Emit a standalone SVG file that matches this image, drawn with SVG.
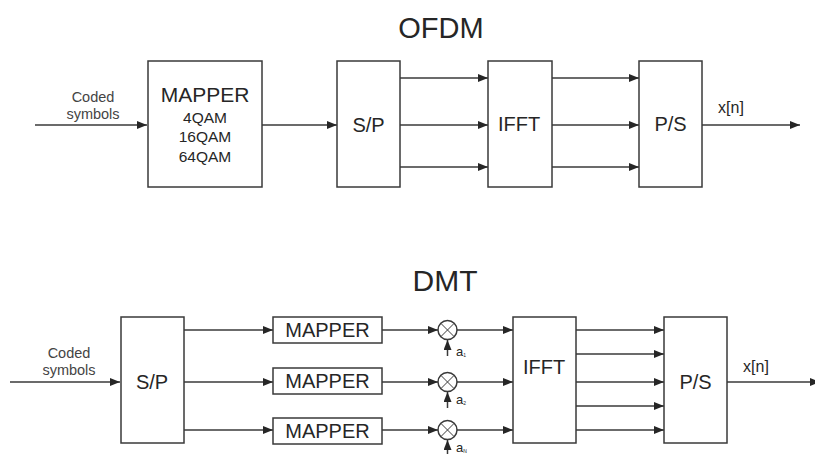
<svg xmlns="http://www.w3.org/2000/svg" width="815" height="454" viewBox="0 0 815 454">
<defs>
<marker id="ah" viewBox="0 0 10 8" refX="10" refY="4" markerWidth="10" markerHeight="8" markerUnits="userSpaceOnUse" orient="auto">
<path d="M0,0 L10,4 L0,8 Z" fill="#262626"/>
</marker>
<style>
.box{fill:#fff;stroke:#3a3a3a;stroke-width:1.5}
.ln{fill:none;stroke:#3a3a3a;stroke-width:1.5}
.ar{fill:none;stroke:#3a3a3a;stroke-width:1.5;marker-end:url(#ah)}
text{font-family:"Liberation Sans",Arial,sans-serif;fill:#262626;text-anchor:middle}
.t{font-size:29px}
.b{font-size:20px}
.s{font-size:14.5px;fill:#444}
.q{font-size:15.5px}
.a{font-size:13px;text-anchor:start}
.sub{font-size:5px}
</style>
</defs>
<rect width="815" height="454" fill="#fff"/>
<text class="t" x="441" y="38">OFDM</text>
<text class="t" x="445" y="291" style="font-size:30px">DMT</text>
<g id="connectors">
<line class="ar" x1="35" y1="125" x2="147" y2="125"/>
<line class="ar" x1="262" y1="125" x2="337" y2="125"/>
<line class="ar" x1="400" y1="78" x2="488" y2="78"/>
<line class="ar" x1="400" y1="125" x2="488" y2="125"/>
<line class="ar" x1="400" y1="167" x2="488" y2="167"/>
<line class="ar" x1="552" y1="78" x2="639" y2="78"/>
<line class="ar" x1="552" y1="125" x2="639" y2="125"/>
<line class="ar" x1="552" y1="167" x2="639" y2="167"/>
<line class="ar" x1="702" y1="125" x2="800" y2="125"/>
<line class="ar" x1="10" y1="382" x2="120" y2="382"/>
<line class="ar" x1="184" y1="330" x2="273" y2="330"/>
<line class="ar" x1="184" y1="382" x2="273" y2="382"/>
<line class="ar" x1="184" y1="430" x2="273" y2="430"/>
<line class="ar" x1="382" y1="330" x2="438" y2="330"/>
<line class="ar" x1="382" y1="382" x2="438" y2="382"/>
<line class="ar" x1="382" y1="430" x2="438" y2="430"/>
<line class="ar" x1="457" y1="330" x2="513" y2="330"/>
<line class="ar" x1="457" y1="382" x2="513" y2="382"/>
<line class="ar" x1="457" y1="430" x2="513" y2="430"/>
<line class="ar" x1="447.5" y1="356" x2="447.5" y2="340"/>
<line class="ar" x1="447.5" y1="408" x2="447.5" y2="392"/>
<line class="ar" x1="447.5" y1="456" x2="447.5" y2="440"/>
<line class="ar" x1="576" y1="330" x2="664" y2="330"/>
<line class="ar" x1="576" y1="354" x2="664" y2="354"/>
<line class="ar" x1="576" y1="382" x2="664" y2="382"/>
<line class="ar" x1="576" y1="406" x2="664" y2="406"/>
<line class="ar" x1="576" y1="430" x2="664" y2="430"/>
<line class="ar" x1="727" y1="382" x2="820" y2="382"/>
</g>
<text class="s" x="93" y="102">Coded</text>
<text class="s" x="93" y="119">symbols</text>
<text class="s" x="69" y="358">Coded</text>
<text class="s" x="69" y="375">symbols</text>
<text class="s" x="731" y="113" style="font-size:16px;fill:#262626">x[n]</text>
<text class="s" x="756" y="372" style="font-size:16px;fill:#262626">x[n]</text>
<g id="mapper-ofdm">
<rect class="box" x="148" y="61" width="114" height="126"/>
<text x="205" y="102" style="font-size:21px">MAPPER</text>
<text class="q" x="205" y="123">4QAM</text>
<text class="q" x="205" y="142">16QAM</text>
<text class="q" x="205" y="162">64QAM</text>
</g>
<g id="sp-ofdm"><rect class="box" x="337" y="61" width="63" height="126"/><text class="b" x="368.5" y="132">S/P</text></g>
<g id="ifft-ofdm"><rect class="box" x="488" y="61" width="64" height="126"/><text class="b" x="519" y="131">IFFT</text></g>
<g id="ps-ofdm"><rect class="box" x="639" y="61" width="63" height="126"/><text class="b" x="670.5" y="131">P/S</text></g>
<g id="sp-dmt"><rect class="box" x="121" y="317" width="63" height="126"/><text class="b" x="152" y="389">S/P</text></g>
<g id="mapper1"><rect class="box" x="273" y="317" width="109" height="26"/><text class="b" x="327.5" y="337">MAPPER</text></g>
<g id="mapper2"><rect class="box" x="273" y="368" width="109" height="26"/><text class="b" x="327.5" y="388">MAPPER</text></g>
<g id="mapper3"><rect class="box" x="273" y="418" width="109" height="26"/><text class="b" x="327.5" y="438">MAPPER</text></g>
<g id="mult1"><circle class="box" cx="447.5" cy="330" r="9.5"/><path class="ln" d="M440.8,323.3 L454.2,336.7 M454.2,323.3 L440.8,336.7" style="stroke-width:1"/><text class="a" x="456" y="356">a<tspan class="sub" dy="1">1</tspan></text></g>
<g id="mult2"><circle class="box" cx="447.5" cy="382" r="9.5"/><path class="ln" d="M440.8,375.3 L454.2,388.7 M454.2,375.3 L440.8,388.7" style="stroke-width:1"/><text class="a" x="456" y="404">a<tspan class="sub" dy="1">2</tspan></text></g>
<g id="mult3"><circle class="box" cx="447.5" cy="430" r="9.5"/><path class="ln" d="M440.8,423.3 L454.2,436.7 M454.2,423.3 L440.8,436.7" style="stroke-width:1"/><text class="a" x="456" y="452">a<tspan class="sub" dy="1">N</tspan></text></g>
<g id="ifft-dmt"><rect class="box" x="513" y="317" width="63" height="126"/><text class="b" x="544" y="374">IFFT</text></g>
<g id="ps-dmt"><rect class="box" x="664" y="317" width="63" height="126"/><text class="b" x="695.5" y="389">P/S</text></g>
</svg>
